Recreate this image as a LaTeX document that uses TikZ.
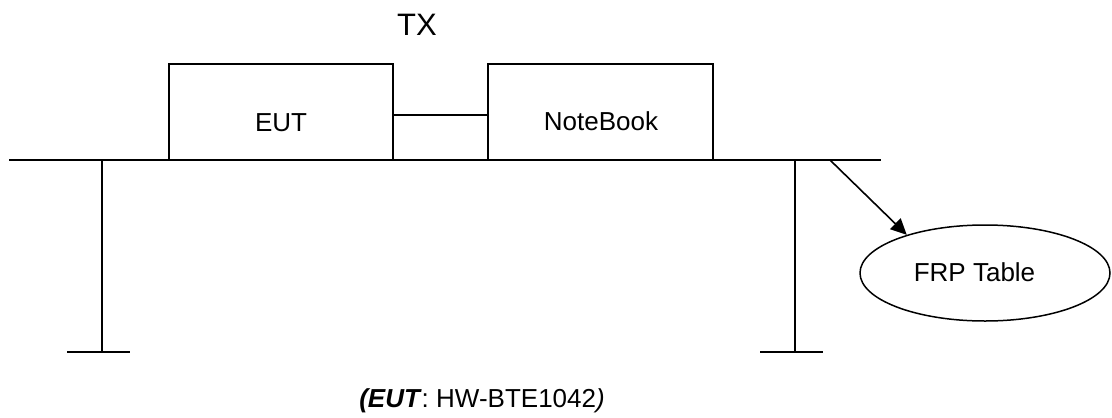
\documentclass[tikz,border=0pt]{standalone}
\usepackage{fontspec}
\setmainfont{Liberation Sans}
\usetikzlibrary{shapes.geometric,arrows.meta}
\tikzset{
  ln/.style={line width=1.8pt, line cap=rect},
  boxnode/.style={draw, line width=1.8pt, inner sep=0pt, minimum width=224pt, minimum height=96pt},
  lbl/.style={inner sep=0pt, anchor=base, font=\fontsize{26}{30}\selectfont},
  ell/.style={draw, ellipse, line width=1.5pt, inner sep=0pt, minimum width=250pt, minimum height=96pt}
}
\begin{document}
\begin{tikzpicture}[x=1pt,y=-1pt]
\useasboundingbox (0,0) rectangle (1112,418);
% table
\coordinate (tl) at (10,160);
\coordinate (tr) at (880,160);
\coordinate (l1) at (102,160);
\coordinate (l2) at (102,352);
\coordinate (lf1) at (68,352);
\coordinate (lf2) at (129,352);
\coordinate (r1) at (795,160);
\coordinate (r2) at (795,352);
\coordinate (rf1) at (761,352);
\coordinate (rf2) at (822,352);
\coordinate (as) at (830,160);
\draw[ln] (tl) -- (tr);
\draw[ln] (l1) -- (l2);
\draw[ln] (lf1) -- (lf2);
\draw[ln] (r1) -- (r2);
\draw[ln] (rf1) -- (rf2);
% boxes
\node[boxnode] (eut) at (281,112) {};
\node[boxnode, minimum width=225pt] (nb) at (600.5,112) {};
\node[lbl] (eutl) at (281,131) {EUT};
\node[lbl] (nbl) at (601,130) {NoteBook};
\draw[ln] ([yshift=-3pt]eut.east) -- ([yshift=-3pt]nb.west);
% TX
\node[lbl, font=\fontsize{31}{36}\selectfont] (tx) at (417,35) {TX};
% FRP table
\node[ell] (frp) at (985,273) {};
\node[lbl] (frpl) at (974.5,281) {FRP Table};
\draw[line width=1.6pt, -{Triangle[length=16pt,width=15pt]}] (as) -- (frp.154);
% caption
\node[lbl] (cap) at (482,407) {\textbf{\textit{(EUT}}: HW-BTE1042\textit{)}};
\end{tikzpicture}
\end{document}
